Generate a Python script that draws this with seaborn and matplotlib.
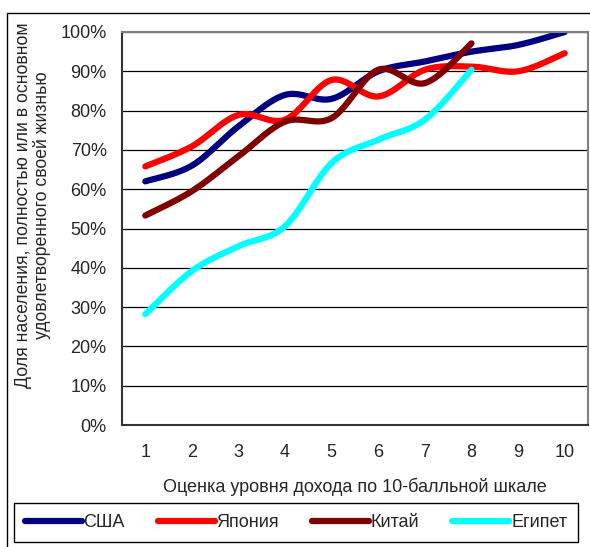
import numpy as np
import pandas as pd
import seaborn as sns
import matplotlib.pyplot as plt
from matplotlib.patches import Rectangle
from matplotlib.ticker import PercentFormatter

# Данные
scores = [1, 2, 3, 4, 5, 6, 7, 8, 9, 10]
usa = [0.62, 0.66, 0.76, 0.84, 0.83, 0.90, 0.925, 0.95, 0.967, 1.0]
japan = [0.658, 0.709, 0.789, 0.777, 0.878, 0.836, 0.904, 0.912, 0.90, 0.946]
china = [0.533, 0.595, 0.684, 0.772, 0.781, 0.904, 0.87, 0.971]
egypt = [0.282, 0.392, 0.455, 0.506, 0.667, 0.726, 0.777, 0.904]
countries = ["США", "Япония", "Китай", "Египет"]
colors = ["#000080", "#FF0000", "#800000", "#00FFFF"]

xlabel = "Оценка уровня дохода по 10-балльной шкале"
ylabel = "Доля населения, полностью или в основном\nудовлетворенного своей жизнью"


# сглаживание как в Excel (кривые Безье через точки)
def smooth(x, y, n=30):
    p = np.column_stack([x, y]).astype(float)
    pe = np.vstack([p[0], p, p[-1]])
    out = []
    for i in range(len(p) - 1):
        p0, p1, p2, p3 = pe[i], pe[i + 1], pe[i + 2], pe[i + 3]
        c1 = p1 + (p2 - p0) / 6
        c2 = p2 - (p3 - p1) / 6
        t = np.linspace(0, 1, n, endpoint=(i == len(p) - 2))[:, None]
        out.append((1 - t) ** 3 * p1 + 3 * (1 - t) ** 2 * t * c1
                   + 3 * (1 - t) * t ** 2 * c2 + t ** 3 * p2)
    return np.vstack(out)


frames = []
for name, vals in zip(countries, [usa, japan, china, egypt]):
    pts = smooth(scores[:len(vals)], vals)
    frames.append(pd.DataFrame({"x": pts[:, 0], "y": pts[:, 1], "country": name}))
df = pd.concat(frames, ignore_index=True)

sns.set_style("white")
plt.rcParams["font.family"] = ["Liberation Sans", "DejaVu Sans"]

fig = plt.figure(figsize=(5.9, 5.47), dpi=100)
ax = fig.add_axes([122 / 590, (547 - 425) / 547, (588 - 122) / 590, (425 - 32) / 547])

sns.lineplot(data=df, x="x", y="y", hue="country", hue_order=countries,
             palette=dict(zip(countries, colors)), estimator=None, sort=False,
             lw=4.5, solid_capstyle="round", legend=False, ax=ax)

ax.set_xlim(0.5, 10.5)
ax.set_ylim(0, 1)
ax.set_xticks(scores)
ax.set_xticklabels([str(s) for s in scores])
ax.set_xticks(np.arange(0.5, 11, 1), minor=True)
ax.set_yticks(np.linspace(0, 1, 11))
ax.yaxis.set_major_formatter(PercentFormatter(1, decimals=0))
ax.tick_params(axis="x", which="major", length=0, pad=14, labelsize=13)
ax.tick_params(axis="x", which="minor", length=5, width=1, color="black", direction="out")
ax.tick_params(axis="y", length=5, width=1, color="black", direction="out", pad=6, labelsize=13)
ax.set_xlabel("")
ax.set_ylabel("")
ax.yaxis.grid(True, color="black", lw=0.9)
ax.set_axisbelow(True)
for side in ["left", "bottom"]:
    ax.spines[side].set_color("#333333")
    ax.spines[side].set_linewidth(1.5)
for side in ["top", "right"]:
    ax.spines[side].set_color("#808080")
    ax.spines[side].set_linewidth(1.5)

fig.text(355 / 590, 1 - 487 / 547, xlabel, ha="center", va="center", fontsize=13)
fig.text(33 / 590, 1 - 205 / 547, ylabel, ha="center", va="center", rotation=90,
         multialignment="center", linespacing=1.05, fontsize=12.7)

leg = fig.legend(ax.get_lines()[:4], countries, loc="center",
                 bbox_to_anchor=(14 / 590, 4 / 547, 564 / 590, 41 / 547),
                 bbox_transform=fig.transFigure, ncol=4, mode="expand",
                 borderaxespad=0, frameon=True, fancybox=False, edgecolor="black",
                 framealpha=1, handlelength=3.15, handletextpad=0.1,
                 columnspacing=1.6, borderpad=0.6, fontsize=13)
leg.get_frame().set_linewidth(1.0)

fig.add_artist(Rectangle((6.5 / 590, -0.1), 2, 1 - 12.5 / 547 + 0.1,
                         transform=fig.transFigure, fill=False, ec="black", lw=1))

plt.savefig("out.png", dpi=100)
